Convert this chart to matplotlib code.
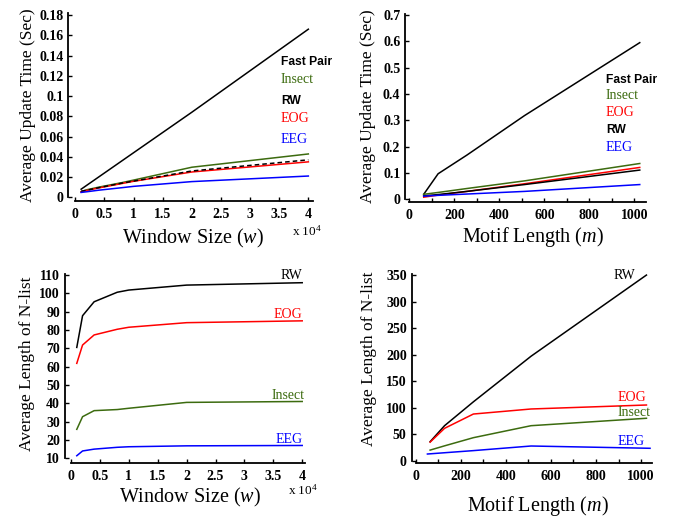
"""Four-panel motif-maintenance benchmark: update time and N-list length
against window size and motif length, in the old MATLAB figure style."""

import matplotlib

matplotlib.use("Agg")
import matplotlib.pyplot as plt
from matplotlib.ticker import FuncFormatter, MultipleLocator

plt.rcParams["font.family"] = "Liberation Serif"
plt.rcParams["mathtext.fontset"] = "custom"
plt.rcParams["mathtext.rm"] = "Liberation Serif"
plt.rcParams["mathtext.it"] = "Liberation Serif:italic"

GREEN = "#3c6b0f"

# window sizes (x 10^4) and motif lengths
window = [0.1, 0.2, 0.4, 0.8, 1, 2, 4]
motif = [64, 128, 256, 512, 1024]
motif_eeg = [52, 128, 256, 512, 1040]

# update time vs window size
tw_fastpair = [0.008, 0.012, 0.020, 0.036, 0.044, 0.084, 0.166]
tw_insect = [0.0055, 0.0075, 0.010, 0.0145, 0.017, 0.0297, 0.0428]
tw_rw = [0.006, 0.007, 0.0095, 0.014, 0.016, 0.026, 0.037]
tw_eog = [0.0055, 0.0068, 0.0092, 0.0136, 0.0158, 0.025, 0.035]
tw_eeg = [0.0048, 0.0055, 0.007, 0.0095, 0.0108, 0.0155, 0.021]

# update time vs motif length
tm_fastpair = [0.019, 0.097, 0.168, 0.318, 0.595]
tm_insect = [0.019, 0.026, 0.041, 0.070, 0.136]
tm_eog = [0.008, 0.016, 0.030, 0.059, 0.121]
tm_rw = [0.013, 0.018, 0.030, 0.056, 0.111]
tm_eeg = [0.012, 0.015, 0.020, 0.030, 0.056]

# N-list length vs window size
nw_rw = [70.5, 87.8, 95.4, 100.6, 101.8, 104.5, 105.8]
nw_eog = [61.8, 71.8, 77.3, 80.4, 81.5, 84, 85]
nw_insect = [25.8, 32.7, 36, 36.6, 37.3, 40.5, 41]
nw_eeg = [11.4, 14, 15, 16, 16.3, 16.8, 17]

# N-list length vs motif length
nm_rw = [35.8, 66, 111, 197, 350]
nm_eog = [35, 61, 88, 97.5, 105]
nm_insect = [20, 28, 43.4, 66, 80]
nm_eeg = [12.6, 15, 19, 27.7, 23.4]


def _style(ax, xlim, ylim, xmajor, xminor, ymajor, xlabel, ylabel, xl_pos, yl_pos, offs):
    ax.set_xlim(*xlim)
    ax.set_ylim(*ylim)
    for side in ("top", "right"):
        ax.spines[side].set_visible(False)
    ax.spines["left"].set_position(("outward", offs[0]))
    ax.spines["bottom"].set_position(("outward", offs[1]))
    for side in ("left", "bottom"):
        ax.spines[side].set_linewidth(1.3)
    ax.xaxis.set_major_locator(MultipleLocator(xmajor))
    ax.xaxis.set_minor_locator(MultipleLocator(xminor))
    ax.yaxis.set_major_locator(MultipleLocator(ymajor))
    fmt = FuncFormatter(lambda v, _: f"{v:g}")
    ax.xaxis.set_major_formatter(fmt)
    ax.yaxis.set_major_formatter(fmt)
    ax.tick_params(which="both", direction="in", length=3, width=1)
    ax.tick_params(axis="x", pad=5)
    ax.tick_params(axis="y", pad=3.5)
    for lab in ax.get_xticklabels() + ax.get_yticklabels():
        lab.set_fontsize(10)
        lab.set_fontweight("bold")
    ax.set_xlabel(xlabel, fontsize=14.5, va="center")
    ax.set_ylabel(ylabel, fontsize=12.5, va="center")
    ax.xaxis.set_label_coords(*xl_pos)
    ax.yaxis.set_label_coords(*yl_pos)


fig = plt.figure(figsize=(6.86, 5.17), dpi=100)
W, H = 686, 517


def _axes(left, top, right, bottom):
    return fig.add_axes([left / W, 1 - bottom / H, (right - left) / W, (bottom - top) / H])


lw = 1.1

# top-left
ax = _axes(75.3, 13, 313, 197.3)
ax.plot(window, tw_fastpair, color="black", lw=lw)
ax.plot(window, tw_insect, color=GREEN, lw=lw)
ax.plot(window, tw_eog, color="red", lw=lw)
ax.plot(window, tw_rw, color="black", lw=lw, ls=(0, (3, 2)))
ax.plot(window, tw_eeg, color="blue", lw=lw)
_style(ax, (0, 4.08), (0, 0.182), 0.5, 0.5, 0.02,
       "Window Size ($w$)", "Average Update Time (Sec)",
       (0.496, -0.221), (-0.199, 0.5), (5, 3))
ax.text(3.72, -0.0335, "x 10$^4$", fontsize=9.5, ha="left", va="center", clip_on=False)
sans = dict(family="Liberation Sans", fontweight="bold", fontsize=8.7, va="center")
serif = dict(fontsize=10, va="center")
ax.text(3.53, 0.1335, "Fast Pair", color="black", **sans)
ax.text(3.53, 0.1165, "Insect", color=GREEN, **serif)
ax.text(3.53, 0.0955, "RW", color="black", **sans)
ax.text(3.53, 0.0775, "EOG", color="red", **serif)
ax.text(3.53, 0.0575, "EEG", color="blue", **serif)

# top-right
ax = _axes(409.3, 13.7, 645.6, 199.3)
ax.plot(motif, tm_fastpair, color="black", lw=lw)
ax.plot(motif, tm_insect, color=GREEN, lw=lw)
ax.plot(motif, tm_eog, color="red", lw=lw)
ax.plot(motif, tm_rw, color="black", lw=lw)
ax.plot(motif, tm_eeg, color="blue", lw=lw)
_style(ax, (0, 1050), (0, 0.705), 200, 100, 0.1,
       "Motif Length ($m$)", "Average Update Time (Sec)",
       (0.525, -0.2015), (-0.175, 0.5), (3, 2))
ax.text(873, 0.452, "Fast Pair", color="black", **sans)
ax.text(873, 0.396, "Insect", color=GREEN, **serif)
ax.text(873, 0.331, "EOG", color="red", **serif)
ax.text(873, 0.265, "RW", color="black", **sans)
ax.text(873, 0.198, "EEG", color="blue", **serif)

# bottom-left
ax = _axes(71, 274.1, 305.1, 458.3)
ax.plot(window, nw_rw, color="black", lw=lw)
ax.plot(window, nw_eog, color="red", lw=lw)
ax.plot(window, nw_insect, color=GREEN, lw=lw)
ax.plot(window, nw_eeg, color="blue", lw=lw)
_style(ax, (0, 4.05), (10, 110.5), 0.5, 0.5, 10,
       "Window Size ($w$)", "Average Length of N-list",
       (0.508, -0.212), (-0.188, 0.516), (4.5, 3.3))
ax.text(3.76, -7.6, "x 10$^4$", fontsize=9.5, ha="left", va="center", clip_on=False)
ax.text(4.0, 109.5, "RW", color="black", ha="right", **serif)
ax.text(4.0, 88.2, "EOG", color="red", ha="right", **serif)
ax.text(4.04, 44.2, "Insect", color=GREEN, ha="right", **serif)
ax.text(4.0, 20.0, "EEG", color="blue", ha="right", **serif)

# bottom-right
ax = _axes(415.7, 274, 652.3, 460.7)
ax.plot(motif, nm_rw, color="black", lw=lw)
ax.plot(motif, nm_eog, color="red", lw=lw)
ax.plot(motif, nm_insect, color=GREEN, lw=lw)
ax.plot(motif_eeg, nm_eeg, color="blue", lw=lw)
_style(ax, (0, 1050), (0, 352), 200, 100, 50,
       "Motif Length ($m$)", "Average Length of N-list",
       (0.515, -0.24), (-0.197, 0.548), (3, 2))
ax.text(880, 349, "RW", color="black", **serif)
ax.text(895, 120, "EOG", color="red", **serif)
ax.text(895, 90, "Insect", color=GREEN, **serif)
ax.text(895, 37, "EEG", color="blue", **serif)

fig.savefig("out.png", dpi=100)
